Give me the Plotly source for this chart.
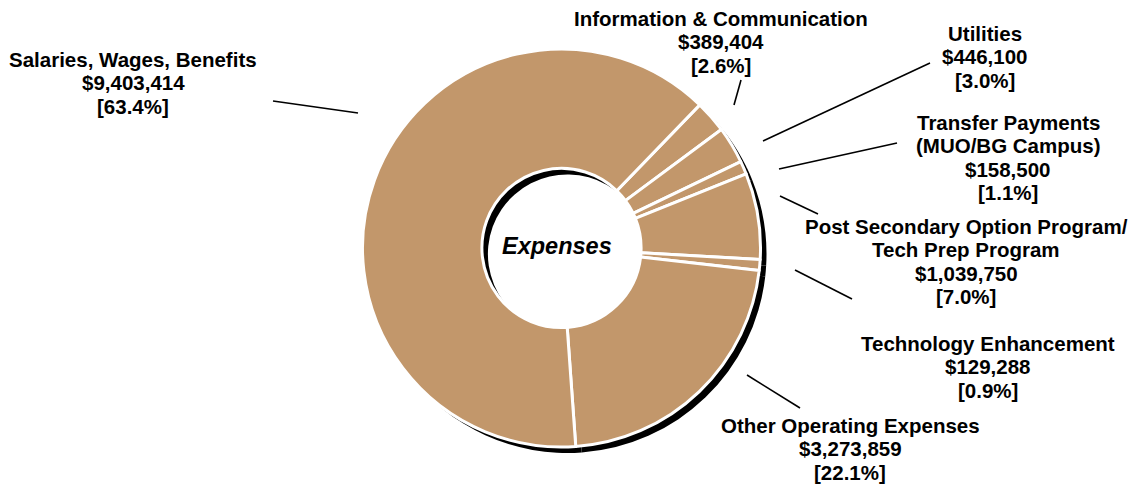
import plotly.graph_objects as go

# Expense categories, clockwise from the top-right
categories = [
    "Information & Communication",
    "Utilities",
    "Transfer Payments (MUO/BG Campus)",
    "Post Secondary Option Program/Tech Prep Program",
    "Technology Enhancement",
    "Other Operating Expenses",
    "Salaries, Wages, Benefits",
]
amounts = [389404, 446100, 158500, 1039750, 129288, 3273859, 9403414]

# Title lines shown above each amount
label_titles = [
    ["Information & Communication"],
    ["Utilities"],
    ["Transfer Payments", "(MUO/BG Campus)"],
    ["Post Secondary Option Program/", "Tech Prep Program"],
    ["Technology Enhancement"],
    ["Other Operating Expenses"],
    ["Salaries, Wages, Benefits"],
]

W, H = 1134, 487
TAN = "#C2976B"
FONT = "Liberation Sans, Arial, sans-serif"

# Pie geometry in page pixels
cx, cy, R = 561.5, 248, 199
shadow_dx, shadow_dy = 6, 6

# Label block placement (centre x, centre y of first line) and leader lines
label_pos = [
    (721, 18),
    (985, 33),
    (1008, 122),
    (966, 226),
    (988, 343),
    (850, 425),
    (133, 59),
]
leaders = [
    ((741, 80), (734, 105)),
    ((930, 63), (763, 141)),
    ((897, 143), (779, 169)),
    ((818, 214), (780, 196)),
    ((852, 299), (795, 270)),
    ((800, 408), (747, 375)),
    ((273, 101), (358, 113)),
]
LINE_STEP = 23.5


def dom(x0, y0, r):
    return dict(
        x=[(x0 - r) / W, (x0 + r) / W],
        y=[(H - y0 - r) / H, (H - y0 + r) / H],
    )


total = sum(amounts)

fig = go.Figure()

# Drop shadow ring behind the donut
fig.add_trace(go.Pie(
    labels=categories,
    values=amounts,
    sort=False,
    direction="clockwise",
    rotation=44,
    hole=0.4,
    marker=dict(colors=["#000000"] * len(amounts), line=dict(width=0)),
    textinfo="none",
    hoverinfo="skip",
    showlegend=False,
    domain=dom(cx + shadow_dx, cy + shadow_dy, R),
))

# Main donut
fig.add_trace(go.Pie(
    labels=categories,
    values=amounts,
    sort=False,
    direction="clockwise",
    rotation=44,
    hole=0.4,
    marker=dict(colors=[TAN] * len(amounts), line=dict(color="white", width=3)),
    textinfo="none",
    hoverinfo="skip",
    showlegend=False,
    domain=dom(cx, cy, R),
))

annotations = []
shapes = []
for titles, amt, (lx, ly), (p0, p1) in zip(label_titles, amounts, label_pos, leaders):
    lines = titles + [f"${amt:,}", f"[{amt / total * 100:.1f}%]"]
    for i, t in enumerate(lines):
        annotations.append(dict(
            x=lx, y=ly + i * LINE_STEP, xref="x", yref="y",
            text=f"<b>{t}</b>", showarrow=False,
            xanchor="center", yanchor="middle",
            font=dict(family=FONT, size=20.5, color="black"),
        ))
    shapes.append(dict(
        type="line", xref="x", yref="y",
        x0=p0[0], y0=p0[1], x1=p1[0], y1=p1[1],
        line=dict(color="black", width=1.6),
    ))

annotations.append(dict(
    x=557, y=246, xref="x", yref="y",
    text="<b><i>Expenses</i></b>", showarrow=False,
    xanchor="center", yanchor="middle",
    font=dict(family=FONT, size=23.5, color="black"),
))

fig.update_layout(
    width=W, height=H,
    margin=dict(l=0, r=0, t=0, b=0),
    paper_bgcolor="white", plot_bgcolor="rgba(0,0,0,0)",
    xaxis=dict(range=[0, W], visible=False, fixedrange=True),
    yaxis=dict(range=[H, 0], visible=False, fixedrange=True),
    annotations=annotations,
    shapes=shapes,
    showlegend=False,
)

fig.write_html("out.html", config={"displayModeBar": False})
